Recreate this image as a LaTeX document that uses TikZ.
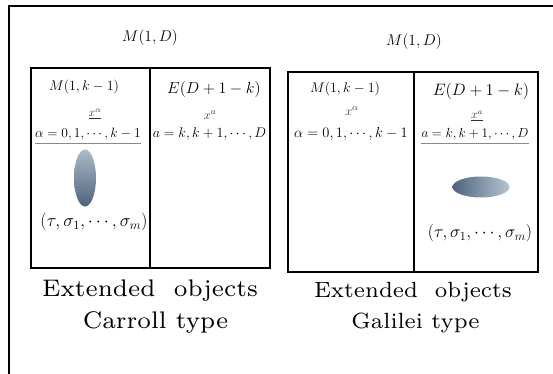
\RequirePackage{fix-cm}
\documentclass[tikz,border=0pt]{standalone}
\usepackage{fontspec}
\newfontfamily\wideroman{lmroman7-regular.otf}
\usetikzlibrary{shapes.geometric}
\definecolor{blobdark}{HTML}{4E647D}
\definecolor{bloblight}{HTML}{B4C4D2}
\definecolor{rulegray}{HTML}{8A8A8A}
\begin{document}
\begin{tikzpicture}[x=1pt,y=-1pt,
  frame/.style={line width=1.3pt},
  boxline/.style={line width=1.2pt},
  lbl/.style={inner sep=0pt,anchor=center},
  bigl/.style={inner sep=0pt,anchor=center,font=\wideroman\fontsize{24}{25}\selectfont},
  bigr/.style={inner sep=0pt,anchor=center,font=\wideroman\fontsize{22}{23}\selectfont},
  ul/.style={rulegray,line width=0.8pt}]
\useasboundingbox (0,0) rectangle (553,374);
% outer frame (left and top edges visible)
\draw[frame] (9,374) -- (9,6) -- (553,6);
% left figure
\node[lbl,font=\fontsize{15.5}{16}\selectfont] (mdl) at (150,38) {$M(1,D)$};
\draw[boxline] (31,68) rectangle (270,268);
\draw[boxline] (150,68) -- (150,268);
\node[lbl,font=\fontsize{14}{15}\selectfont] (mkl) at (84,87) {$M(1,k-1)$};
\node[lbl,font=\fontsize{12}{13}\selectfont,text=black!80] (xal) at (95,114) {$\underline{x^\alpha}$};
\node[lbl,font=\fontsize{13.5}{14}\selectfont] (all) at (88,134) {$\alpha=0,1,\cdots,k-1$};
\draw[ul] ([yshift=-3pt]all.south west) -- ([yshift=-3pt]all.south east);
\node[ellipse,minimum width=22pt,minimum height=57pt,inner sep=0pt,
      top color=bloblight!90!blobdark,bottom color=blobdark] (bl) at (85,178) {};
\node[lbl,font=\fontsize{18}{19}\selectfont] (tl) at (94,222) {$(\tau,\sigma_1,\cdots,\sigma_m)$};
\node[lbl,font=\fontsize{16}{17}\selectfont] (el) at (214,90) {$E(D+1-k)$};
\node[lbl,font=\fontsize{12.5}{13}\selectfont,text=black!80] (xbl) at (210,115) {$x^a$};
\node[lbl,font=\fontsize{14}{15}\selectfont] (abl) at (209.5,134) {$a=k,k+1,\cdots,D$};
\node[bigl] (ex1) at (150,291) {Extended~~objects};
\node[bigl] (ty1) at (155.5,323) {Carroll type};
% right figure
\node[lbl,font=\fontsize{15.5}{16}\selectfont] (mdr) at (414,42) {$M(1,D)$};
\draw[boxline] (288,72) rectangle (538,272);
\draw[boxline] (414,72) -- (414,272);
\node[lbl,font=\fontsize{14}{15}\selectfont] (mkr) at (345,89) {$M(1,k-1)$};
\node[lbl,font=\fontsize{12.5}{13}\selectfont,text=black!80] (xar) at (352,111) {$x^\alpha$};
\node[lbl,font=\fontsize{14.5}{15}\selectfont] (alr) at (351,134) {$\alpha=0,1,\cdots,k-1$};
\node[lbl,font=\fontsize{16.5}{17}\selectfont] (er) at (481,91) {$E(D+1-k)$};
\node[lbl,font=\fontsize{12}{13}\selectfont,text=black!80] (xbr) at (477,116) {$\underline{x^a}$};
\node[lbl,font=\fontsize{13.2}{14}\selectfont] (abr) at (475,134) {$a=k,k+1,\cdots,D$};
\draw[ul] ([yshift=-3pt]abr.south west) -- ([yshift=-3pt]abr.south east);
\node[ellipse,minimum width=57pt,minimum height=21pt,inner sep=0pt,
      left color=blobdark,right color=bloblight] (br) at (481,187) {};
\node[lbl,font=\fontsize{17.5}{18}\selectfont] (tr) at (480,233) {$(\tau,\sigma_1,\cdots,\sigma_m)$};
\node[bigr] (ex2) at (413,292) {Extended~~objects};
\node[bigr] (ty2) at (415.5,323) {Galilei type};
\end{tikzpicture}
\end{document}
